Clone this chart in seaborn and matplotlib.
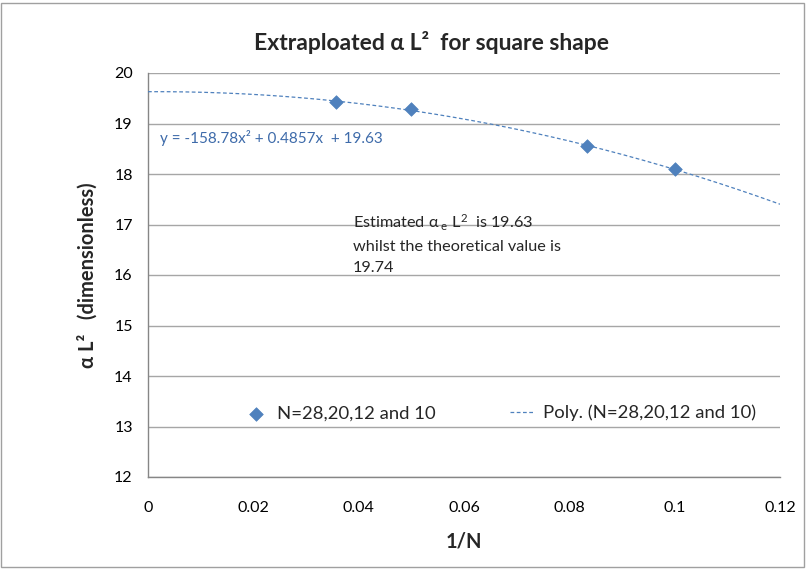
import numpy as np
import pandas as pd
import matplotlib
matplotlib.use("Agg")
import matplotlib.pyplot as plt
from matplotlib.patches import Rectangle
import seaborn as sns

# ---- data ----
N_values = [28, 20, 12, 10]
inv_N = [1 / 28, 1 / 20, 1 / 12, 1 / 10]
alpha_L2 = [19.43, 19.28, 18.55, 18.10]
# trendline coefficients as printed on the chart (a x^2 + b x + c)
poly_coeffs = [-158.78, 0.4857, 19.63]
x_ticks = [0, 0.02, 0.04, 0.06, 0.08, 0.1, 0.12]
x_tick_labels = ["0", "0.02", "0.04", "0.06", "0.08", "0.1", "0.12"]
y_ticks = [12, 13, 14, 15, 16, 17, 18, 19, 20]

series_name = "N=28,20,12 and 10"
trend_name = "Poly. (N=28,20,12 and 10)"

sns.set_theme(style="white")
FAM = ["Lato", "DejaVu Sans"]
plt.rcParams["font.family"] = FAM
plt.rcParams["mathtext.fontset"] = "custom"
plt.rcParams["mathtext.rm"] = "Lato"
plt.rcParams["mathtext.it"] = "Lato:italic"
plt.rcParams["mathtext.bf"] = "Lato:bold"

BLUE = "#4F81BD"
GRID = "#A6A6A6"
AXIS = "#868686"

fig = plt.figure(figsize=(8.06, 5.69), dpi=100)
ax = fig.add_axes([148 / 806, 1 - 477 / 569, (780 - 148) / 806, (477 - 73) / 569])

df = pd.DataFrame({"x": inv_N, "y": alpha_L2})
xs = np.linspace(0, 0.12, 200)
trend = pd.DataFrame({"x": xs, "y": np.polyval(poly_coeffs, xs)})

sns.lineplot(data=trend, x="x", y="y", ax=ax, color=BLUE, lw=0.9,
             linestyle=(0, (3, 2)), label=trend_name, zorder=3)
sns.scatterplot(data=df, x="x", y="y", ax=ax, marker="D", s=48, color=BLUE,
                edgecolor=BLUE, linewidth=0.5, label=series_name, zorder=4)

ax.set_xlim(0, 0.12)
ax.set_ylim(12, 20)
ax.set_xticks(x_ticks)
ax.set_xticklabels(x_tick_labels)
ax.set_yticks(y_ticks)
ax.yaxis.grid(True, color=GRID, lw=1)
ax.xaxis.grid(False)
ax.set_axisbelow(True)
for s in ["top", "right"]:
    ax.spines[s].set_visible(False)
for s in ["left", "bottom"]:
    ax.spines[s].set_color(AXIS)
    ax.spines[s].set_linewidth(1)
ax.tick_params(axis="both", which="major", direction="out", length=5, width=1,
               color=AXIS, labelsize=11.5, labelcolor="black", pad=6)
ax.tick_params(axis="x", pad=12)

ax.set_xlabel("1/N", fontsize=14.5, fontweight="bold", labelpad=12)
ax.set_ylabel("α L²   (dimensionless)", fontsize=14.5, fontweight="bold", labelpad=12)
fig.text(0.5 + 28 / 806, 1 - 42 / 569, "Extraploated α L²  for square shape",
         ha="center", va="center", fontsize=16.5, fontweight="bold", family=FAM)

ax.text(0.0023, 18.71, "y = -158.78x² + 0.4857x  + 19.63", color="#3E6BAA",
        fontsize=11, ha="left", va="center")
ax.text(0.0389, 17.23,
        "Estimated $\\mathregular{\\alpha_{\\ e}}$ L$^{\\mathregular{2}}$  is 19.63\n"
        "whilst the theoretical value is\n19.74",
        fontsize=11.7, ha="left", va="top", linespacing=1.65)

handles, labels = ax.get_legend_handles_labels()
order = [labels.index(series_name), labels.index(trend_name)]
ax.legend([handles[i] for i in order], [labels[i] for i in order],
          ncol=2, frameon=False, loc="center",
          bbox_to_anchor=(0.557, 0.158), fontsize=13.3, columnspacing=4.0,
          handlelength=1.35, handletextpad=0.45)

fig.patches.append(Rectangle((1 / 806, 2 / 569), 803 / 806, 564 / 569,
                             transform=fig.transFigure, fill=False,
                             edgecolor="#A0A0A0", lw=1))

fig.savefig("out.png", dpi=100)
